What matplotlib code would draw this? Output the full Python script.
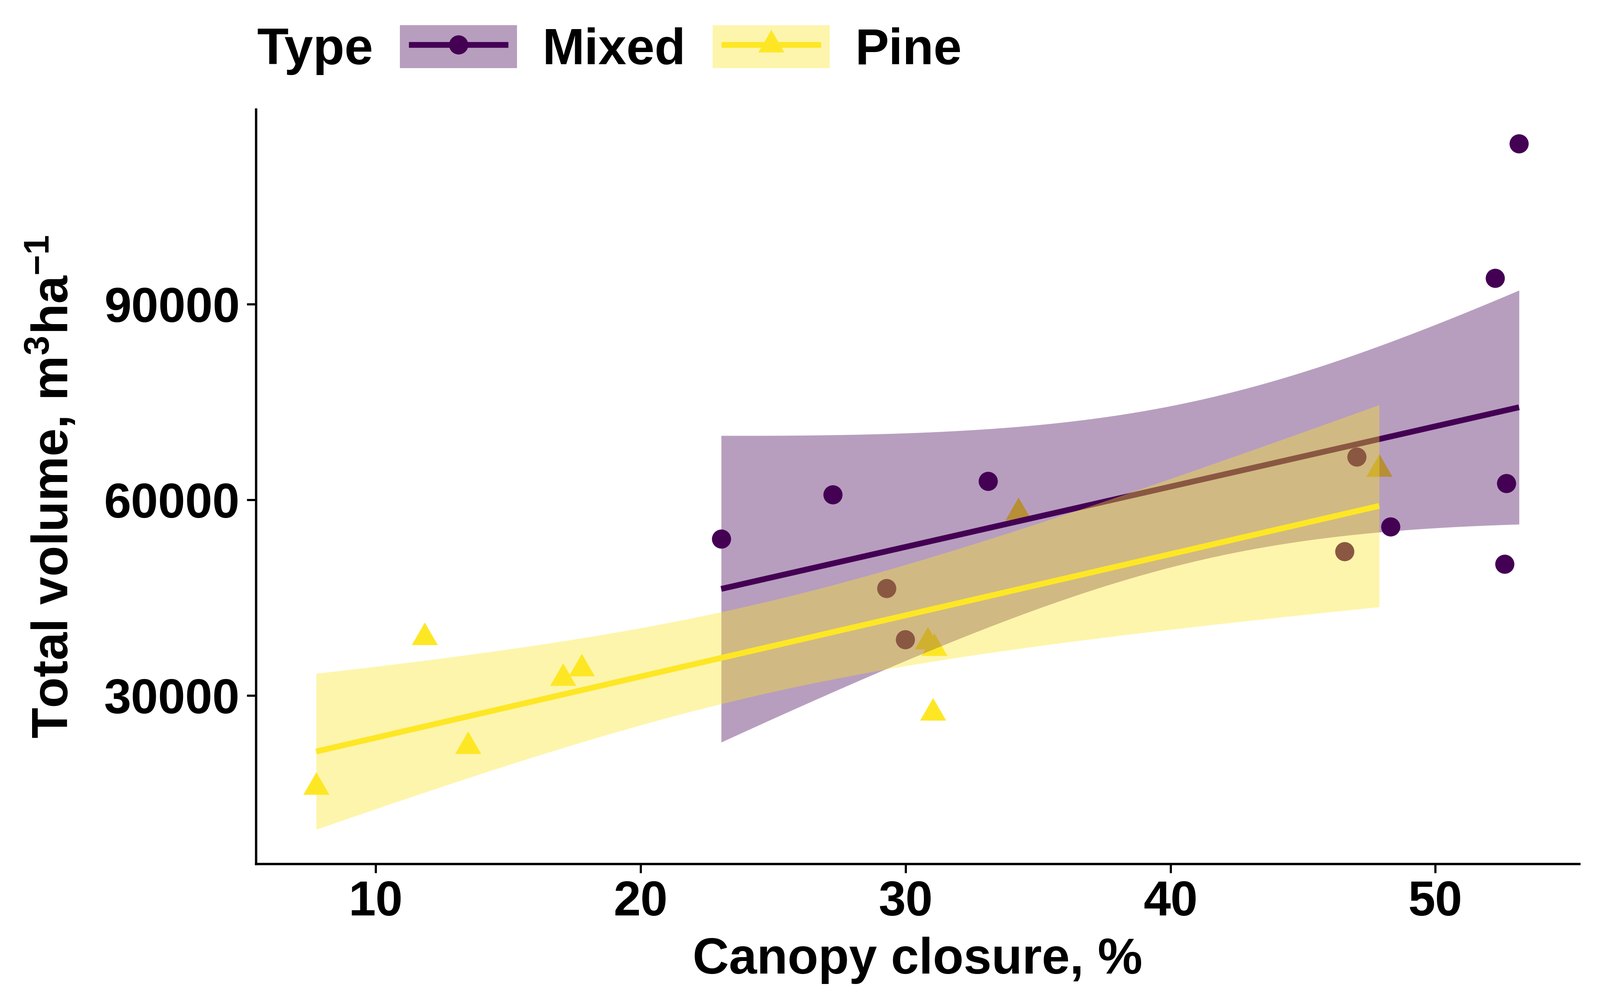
"""
Canopy closure vs total volume, with a linear fit and 95% band for each forest type.
"""

import numpy as np
import matplotlib
matplotlib.use("Agg")
import matplotlib.pyplot as plt
from matplotlib.patches import Patch
from matplotlib.lines import Line2D
from matplotlib.legend_handler import HandlerTuple, HandlerLine2D

plt.rcParams['font.family'] = ['Liberation Sans', 'DejaVu Sans']
plt.rcParams['font.weight'] = 'bold'
plt.rcParams['mathtext.fontset'] = 'custom'
plt.rcParams['mathtext.rm'] = 'Liberation Sans'
plt.rcParams['mathtext.it'] = 'Liberation Sans:italic'
plt.rcParams['mathtext.bf'] = 'Liberation Sans:bold'

# data
types = ['Mixed', 'Pine']
colors = ['#440154', '#FDE725']

mixed_x = [23.04, 27.25, 29.28, 29.99, 33.11, 46.57, 47.03, 48.31, 52.25, 52.61, 52.68, 53.16]
mixed_y = [53994, 60802, 46451, 38562, 62888, 52060, 66573, 55865, 93998, 50155, 62528, 114647]

pine_x = [7.75, 11.85, 13.48, 17.06, 17.77, 30.84, 31.09, 31.03, 34.26, 47.88]
pine_y = [15954, 38902, 22177, 32679, 34111, 38256, 37236, 27308, 58050, 64713]

x_ticks = [10, 20, 30, 40, 50]
y_ticks = [30000, 60000, 90000]

# two-sided 95% t quantiles by degrees of freedom
t975 = {8: 2.306004, 10: 2.228139}

# triangle with its centroid on the data point, like R's pch 17
tri = [(0, 1), (-0.866, -0.5), (0.866, -0.5)]

BAND_ALPHA = 0.38
LW = 3.2


def lm_band(x, y, n=80):
    """Straight line fit with 95% confidence band, as geom_smooth(method='lm')."""
    x = np.asarray(x, float)
    y = np.asarray(y, float)
    slope, icept = np.polyfit(x, y, 1)
    xs = np.linspace(x.min(), x.max(), n)
    fit = icept + slope * xs
    resid = y - (icept + slope * x)
    df = len(x) - 2
    s = np.sqrt(np.sum(resid ** 2) / df)
    sxx = np.sum((x - x.mean()) ** 2)
    se = s * np.sqrt(1 / len(x) + (xs - x.mean()) ** 2 / sxx)
    return xs, fit, fit - t975[df] * se, fit + t975[df] * se


class ShortLine(HandlerLine2D):
    """Legend line that stops a little short of the key box edges."""
    def get_xdata(self, legend, xdescent, ydescent, width, height, fontsize):
        pad = 0.1 * width
        xdata = np.array([-xdescent + pad, -xdescent + width - pad])
        return xdata, np.array([-xdescent + 0.5 * width])


def main():
    fig = plt.figure(figsize=(3689 / 300, 2298 / 300), dpi=300)
    ax = fig.add_axes([0.160, 0.1336, 0.827, 0.7567])

    ax.scatter(mixed_x, mixed_y, s=112, marker='o', color=colors[0], linewidths=0, zorder=2)
    ax.scatter(pine_x, pine_y, s=277, marker=tri, color=colors[1], linewidths=0, zorder=2)

    lows, highs = [], []
    z = 3
    for (gx, gy), col in zip([(mixed_x, mixed_y), (pine_x, pine_y)], colors):
        xs, fit, lo, hi = lm_band(gx, gy)
        ax.fill_between(xs, lo, hi, color=col, alpha=BAND_ALPHA, linewidth=0, zorder=z)
        ax.plot(xs, fit, color=col, lw=LW, zorder=z + 1, solid_capstyle='butt')
        lows.append(lo.min())
        highs.append(hi.max())
        z += 2

    # ggplot-style 5% expansion
    all_x = mixed_x + pine_x
    x0, x1 = min(all_x), max(all_x)
    ax.set_xlim(x0 - 0.05 * (x1 - x0), x1 + 0.05 * (x1 - x0))
    y0 = min(min(mixed_y + pine_y), min(lows))
    y1 = max(max(mixed_y + pine_y), max(highs))
    ax.set_ylim(y0 - 0.05 * (y1 - y0), y1 + 0.05 * (y1 - y0))

    ax.set_xticks(x_ticks)
    ax.set_yticks(y_ticks)
    ax.tick_params(labelsize=27, width=1.2, length=5, pad=4, color='black')
    for lab in ax.get_xticklabels() + ax.get_yticklabels():
        lab.set_fontweight('bold')

    for side in ['top', 'right']:
        ax.spines[side].set_visible(False)
    for side in ['left', 'bottom']:
        ax.spines[side].set_linewidth(1.3)

    ax.set_xlabel('Canopy closure, %', fontsize=27.8, fontweight='bold', labelpad=6)
    ax.set_ylabel(r'Total volume, m$^{3}$ha$^{-1}$', fontsize=27.8, fontweight='bold', labelpad=14)

    handles = []
    for col, mk, ms in zip(colors, ['o', tri], [10.6, 16.6]):
        box = Patch(facecolor=col, alpha=BAND_ALPHA, linewidth=0)
        line = Line2D([], [], color=col, lw=LW, marker=mk, markersize=ms, markeredgewidth=0)
        handles.append((box, line))

    fig.text(0.1607, 0.949, 'Type', fontsize=28.5, fontweight='bold', va='center', ha='left')
    fig.legend(handles, types,
               handler_map={tuple: HandlerTuple(ndivide=1, pad=0), Line2D: ShortLine()},
               loc='upper left', bbox_to_anchor=(922 / 3689, 1 - 58 / 2298),
               ncol=2, frameon=False, borderpad=0, borderaxespad=0,
               handlelength=2.31, handleheight=0.93, handletextpad=0.5,
               columnspacing=0.54, prop={'weight': 'bold', 'size': 28})

    fig.savefig('out.png', dpi=300)


if __name__ == '__main__':
    main()
